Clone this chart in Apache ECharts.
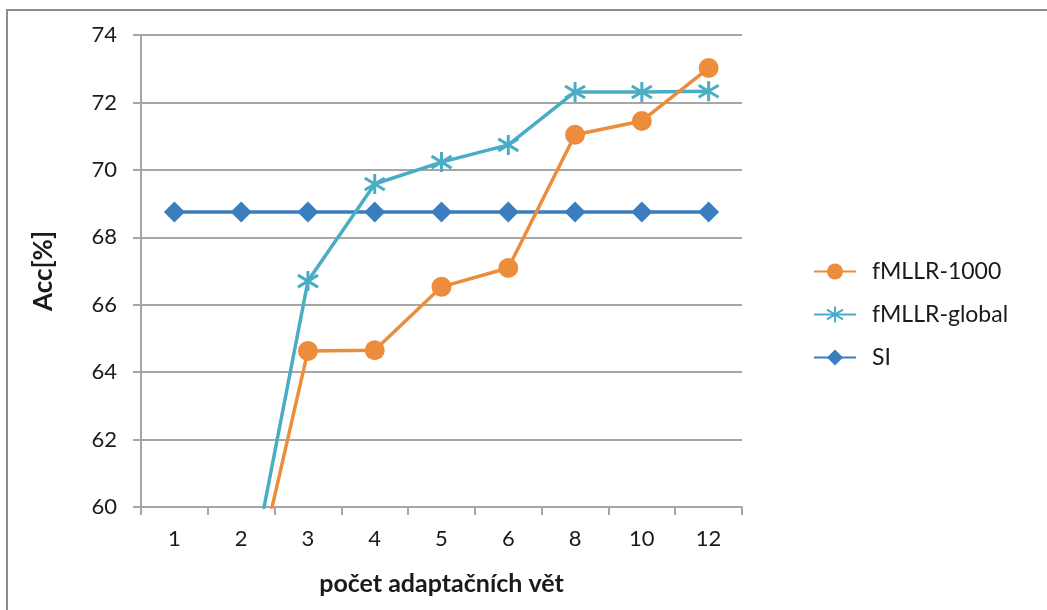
<!DOCTYPE html>
<html>
<head>
<meta charset="utf-8">
<script src="https://cdn.jsdelivr.net/npm/echarts@6/dist/echarts.min.js"></script>
<style>
  html, body { margin: 0; padding: 0; background: #fff; }
  #chart { width: 1047px; height: 610px; }
</style>
</head>
<body>
<div id="chart"></div>
<script>
// Number of adaptation sentences
const categories = ['1', '2', '3', '4', '5', '6', '8', '10', '12'];

// Accuracy [%] per system
const fmllr1000   = [54.0, 56.0, 64.63, 64.65, 66.53, 67.09, 71.04, 71.45, 73.02];
const fmllrGlobal = [55.0, 56.5, 66.70, 69.58, 70.23, 70.74, 72.31, 72.31, 72.33];
const si          = [68.75, 68.75, 68.75, 68.75, 68.75, 68.75, 68.75, 68.75, 68.75];

const yTicks = { min: 60, max: 74, step: 2 };

const FONT = 'Lato, "Open Sans", sans-serif';
const GRID_COLOR = '#a6a6a6';
const TEXT_COLOR = '#1a1a1a';
const ORANGE = '#ec8d3b';
const CYAN = '#4aadc4';
const BLUE = '#3a7ebf';

// asterisk marker: vertical stroke plus two diagonals
const asterisk = 'path://M10,0L10,20M1,4L19,16M1,16L19,4';

const chart = echarts.init(document.getElementById('chart'), null, { renderer: 'canvas' });

chart.setOption({
  animation: false,
  backgroundColor: '#fff',
  graphic: [{
    type: 'rect',
    shape: { x: 7, y: 10, width: 1200, height: 800 },
    style: { fill: 'none', stroke: '#8c8c8c', lineWidth: 2 },
    silent: true
  }],
  grid: { left: 141, right: 305, top: 35, bottom: 103 },
  legend: {
    orient: 'vertical',
    left: 808,
    top: 255,
    itemWidth: 42,
    itemHeight: 20,
    itemGap: 20,
    textStyle: { fontFamily: FONT, fontSize: 23, color: TEXT_COLOR, padding: [0, 0, 0, 11] },
    data: ['fMLLR-1000', 'fMLLR-global', 'SI']
  },
  xAxis: {
    type: 'category',
    data: categories,
    boundaryGap: true,
    name: 'počet adaptačních vět',
    nameLocation: 'middle',
    nameGap: 64,
    nameTextStyle: { fontFamily: FONT, fontSize: 25, fontWeight: 'bold', color: TEXT_COLOR },
    axisLine: { lineStyle: { color: GRID_COLOR, width: 2 } },
    axisTick: { show: true, length: 8, lineStyle: { color: GRID_COLOR, width: 2 } },
    axisLabel: { fontFamily: FONT, fontSize: 22, color: TEXT_COLOR, margin: 21 },
    splitLine: { show: false }
  },
  yAxis: {
    type: 'value',
    min: yTicks.min,
    max: yTicks.max,
    interval: yTicks.step,
    name: 'Acc[%]',
    nameLocation: 'middle',
    nameGap: 84,
    nameRotate: 90,
    nameTextStyle: { fontFamily: FONT, fontSize: 26, fontWeight: 'bold', color: TEXT_COLOR },
    axisLine: { show: true, lineStyle: { color: GRID_COLOR, width: 2 } },
    axisTick: { show: true, length: 8, lineStyle: { color: GRID_COLOR, width: 2 } },
    axisLabel: { fontFamily: FONT, fontSize: 22, color: TEXT_COLOR, margin: 24 },
    splitLine: { show: true, lineStyle: { color: GRID_COLOR, width: 2 } }
  },
  series: [
    {
      name: 'fMLLR-1000',
      type: 'line',
      data: fmllr1000,
      clip: true,
      symbol: 'circle',
      symbolSize: 20,
      lineStyle: { color: ORANGE, width: 3.5 },
      itemStyle: { color: ORANGE },
      emphasis: { disabled: true },
      z: 3
    },
    {
      name: 'fMLLR-global',
      type: 'line',
      data: fmllrGlobal,
      clip: true,
      symbol: asterisk,
      symbolSize: 20,
      lineStyle: { color: CYAN, width: 3.5 },
      itemStyle: { color: 'rgba(0,0,0,0)', borderColor: CYAN, borderWidth: 3 },
      emphasis: { disabled: true },
      z: 2
    },
    {
      name: 'SI',
      type: 'line',
      data: si,
      clip: true,
      symbol: 'diamond',
      symbolSize: 21,
      lineStyle: { color: BLUE, width: 3.5 },
      itemStyle: { color: BLUE },
      emphasis: { disabled: true },
      z: 1
    }
  ]
});
</script>
</body>
</html>
